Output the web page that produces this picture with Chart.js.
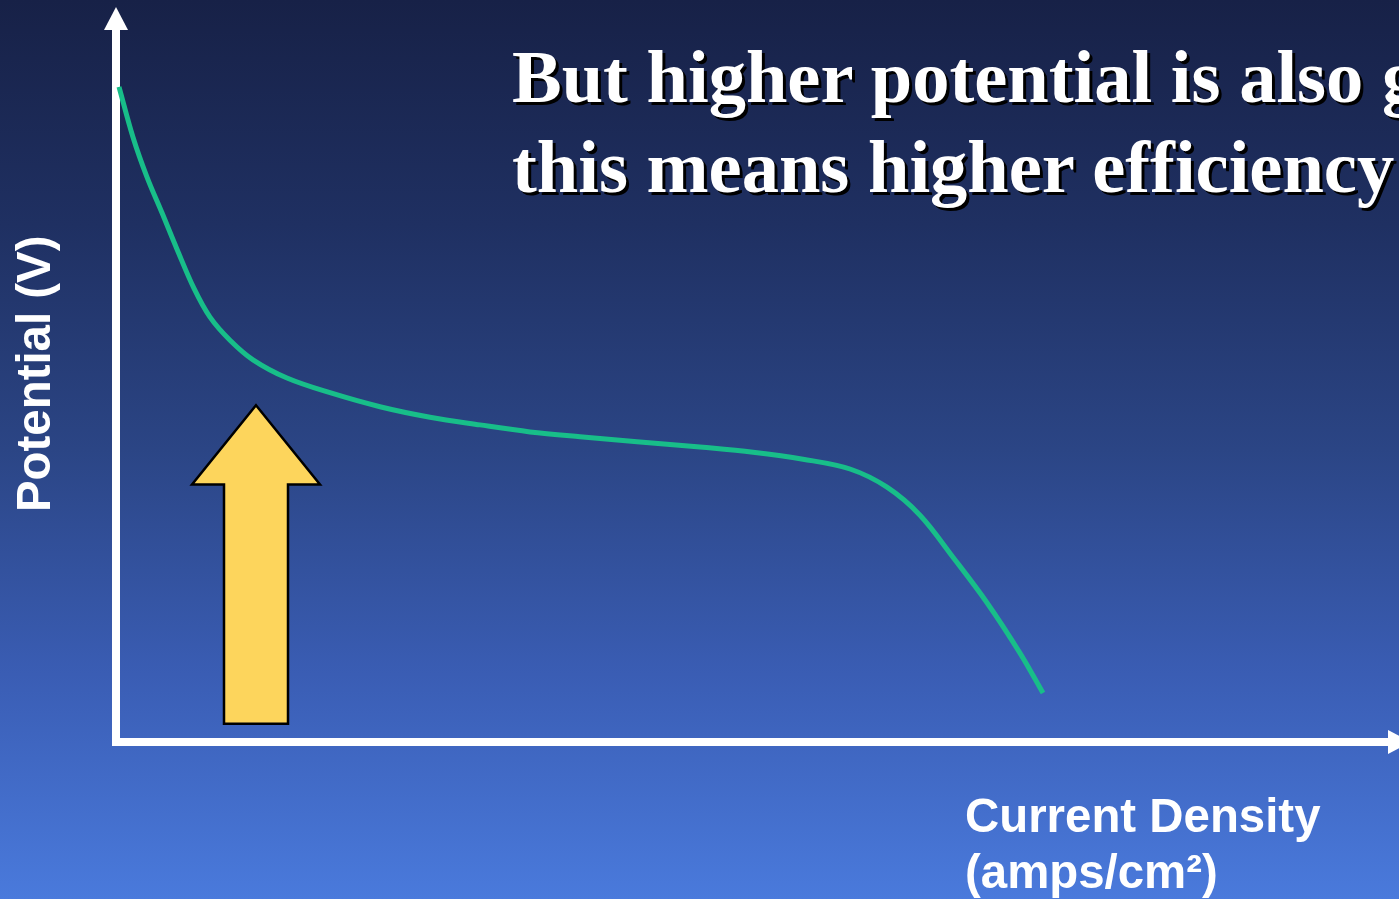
<!DOCTYPE html>
<html>
<head>
<meta charset="utf-8">
<script src="https://cdn.jsdelivr.net/npm/chart.js@4"></script>
<style>
  html, body {
    margin: 0;
    padding: 0;
    width: 1399px;
    height: 899px;
    overflow: hidden;
  }
  body {
    position: relative;
    background: linear-gradient(to bottom, #172147 0%, #1f3062 25%, #2b4585 50%, #3a5db4 75%, #4a7adc 100%);
  }
  #chart { position: absolute; left: 0; top: 0; }
  .headline {
    position: absolute;
    left: 512px;
    top: 32px;
    font: bold 74.5px 'Liberation Serif', 'Times New Roman', serif;
    line-height: 90px;
    color: #fff;
    white-space: nowrap;
    text-shadow: 3px 3px 0 #000;
  }
  .axis-label {
    position: absolute;
    font: bold 47.4px 'Liberation Sans', Arial, sans-serif;
    color: #fff;
    white-space: nowrap;
  }
  #y-label {
    left: 10px;
    top: 512px;
    line-height: 47px;
    transform-origin: 0 0;
    transform: rotate(-90deg);
  }
  #x-label {
    left: 965px;
    top: 788px;
    line-height: 56px;
  }
</style>
</head>
<body>
<canvas id="chart" width="1399" height="899"></canvas>
<div class="headline">But higher potential is also good<br>this means higher efficiency</div>
<div class="axis-label" id="y-label">Potential (V)</div>
<div class="axis-label" id="x-label">Current Density<br>(amps/cm²)</div>

<script>
// Polarization curve: current density (arbitrary units) vs cell potential (V)
const currentDensity = [
  0.003, 0.017, 0.031, 0.046, 0.061, 0.078, 0.094, 0.114, 0.137, 0.171,
  0.214, 0.264, 0.314, 0.364, 0.414, 0.464, 0.521, 0.587, 0.637, 0.687,
  0.734, 0.771, 0.804, 0.837, 0.871, 0.904, 0.927
];
const potential = [
  0.936, 0.864, 0.807, 0.756, 0.704, 0.648, 0.607, 0.574, 0.546, 0.520,
  0.499, 0.479, 0.464, 0.453, 0.443, 0.436, 0.429, 0.421, 0.414, 0.404,
  0.390, 0.364, 0.324, 0.264, 0.199, 0.127, 0.070
];

// Axis ranges
const xRange = [0, 1.283];
const yRange = [0, 1.04];

// Yellow "higher potential" arrow, anchored in data units
const upArrow = { x: 0.140, tipY: 0.481, headBaseY: 0.368, baseY: 0.026 };

const points = currentDensity.map((x, i) => ({ x: x, y: potential[i] }));

// Draws the white axes with arrowheads and the yellow arrow
const decorations = {
  id: 'decorations',
  beforeDatasetsDraw(chart) {
    const { ctx, chartArea, scales } = chart;
    const x0 = chartArea.left;
    const y0 = chartArea.bottom;
    const headLen = 23, headHalf = 12;

    ctx.save();
    ctx.fillStyle = '#ffffff';
    // vertical axis
    ctx.fillRect(x0 - 4, 7 + headLen - 1, 8, y0 + 4 - (7 + headLen - 1));
    ctx.beginPath();
    ctx.moveTo(x0, 7);
    ctx.lineTo(x0 - headHalf, 7 + headLen);
    ctx.lineTo(x0 + headHalf, 7 + headLen);
    ctx.closePath();
    ctx.fill();
    // horizontal axis
    const xEnd = 1388;
    ctx.fillRect(x0 - 4, y0 - 4, xEnd - x0 + 5, 8);
    ctx.beginPath();
    ctx.moveTo(xEnd + headLen, y0);
    ctx.lineTo(xEnd, y0 - headHalf);
    ctx.lineTo(xEnd, y0 + headHalf);
    ctx.closePath();
    ctx.fill();

    // yellow block arrow
    const cx = scales.x.getPixelForValue(upArrow.x);
    const tip = scales.y.getPixelForValue(upArrow.tipY);
    const hb = scales.y.getPixelForValue(upArrow.headBaseY);
    const base = scales.y.getPixelForValue(upArrow.baseY);
    const head = 64, shaft = 32;
    ctx.beginPath();
    ctx.moveTo(cx, tip);
    ctx.lineTo(cx + head, hb);
    ctx.lineTo(cx + shaft, hb);
    ctx.lineTo(cx + shaft, base);
    ctx.lineTo(cx - shaft, base);
    ctx.lineTo(cx - shaft, hb);
    ctx.lineTo(cx - head, hb);
    ctx.closePath();
    ctx.fillStyle = '#fdd55c';
    ctx.fill();
    ctx.lineWidth = 2.5;
    ctx.lineJoin = 'miter';
    ctx.strokeStyle = '#000000';
    ctx.stroke();
    ctx.restore();
  }
};

new Chart(document.getElementById('chart').getContext('2d'), {
  type: 'line',
  data: {
    datasets: [{
      label: 'Potential',
      data: points,
      borderColor: '#18be89',
      borderWidth: 5,
      pointRadius: 0,
      fill: false,
      tension: 0.35
    }]
  },
  options: {
    responsive: false,
    animation: false,
    layout: { padding: { left: 116, right: 0, top: 14, bottom: 157 } },
    scales: {
      x: { type: 'linear', min: xRange[0], max: xRange[1], display: false },
      y: { type: 'linear', min: yRange[0], max: yRange[1], display: false }
    },
    plugins: {
      legend: { display: false },
      tooltip: { enabled: false }
    }
  },
  plugins: [decorations]
});
</script>
</body>
</html>
